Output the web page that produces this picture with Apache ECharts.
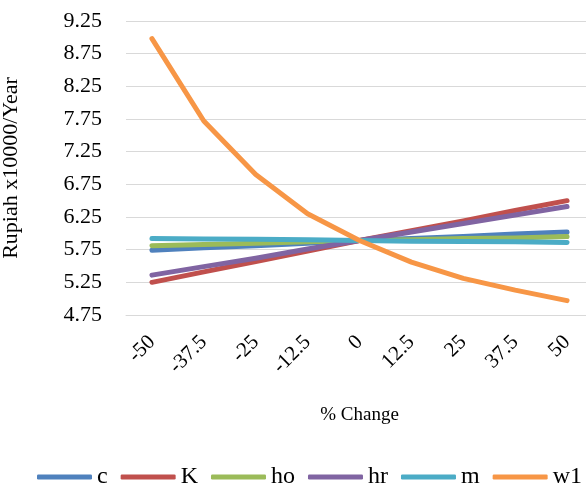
<!DOCTYPE html>
<html>
<head>
<meta charset="utf-8">
<script src="https://cdn.jsdelivr.net/npm/echarts@6/dist/echarts.min.js"></script>
<style>html,body{margin:0;padding:0;background:#fff}#chart{width:586px;height:488px}</style>
</head>
<body>
<div id="chart"></div>
<script>
const categories = ['-50', '-37.5', '-25', '-12.5', '0', '12.5', '25', '37.5', '50'];
const c  = [5.74, 5.78, 5.81, 5.85, 5.89, 5.92, 5.95, 5.99, 6.02];
const K  = [5.25, 5.41, 5.57, 5.73, 5.89, 6.04, 6.19, 6.35, 6.50];
const ho = [5.81, 5.83, 5.85, 5.87, 5.89, 5.90, 5.92, 5.93, 5.95];
const hr = [5.36, 5.49, 5.62, 5.76, 5.89, 6.02, 6.15, 6.28, 6.41];
const m  = [5.92, 5.915, 5.91, 5.90, 5.89, 5.88, 5.875, 5.87, 5.86];
const w1 = [8.98, 7.72, 6.90, 6.30, 5.89, 5.56, 5.31, 5.13, 4.97];
const seriesNames = ['c', 'K', 'ho', 'hr', 'm', 'w1'];
const seriesData = [c, K, ho, hr, m, w1];
const colors = ['#4F81BD', '#C0504D', '#9BBB59', '#8064A2', '#4BACC6', '#F79646'];

const FONT = '"Liberation Serif", "Times New Roman", serif';
const chart = echarts.init(document.getElementById('chart'));
chart.setOption({
  animation: false,
  color: colors,
  textStyle: { fontFamily: FONT, color: '#000' },
  grid: { left: 126, right: -7, top: 21, bottom: 173, containLabel: false, outerBoundsMode: 'none' },
  legend: {
    left: 37, top: 465, padding: 0,
    icon: 'roundRect', itemWidth: 55, itemHeight: 5, itemGap: 13,
    textStyle: { fontFamily: FONT, fontSize: 24, color: '#000' },
    data: seriesNames
  },
  xAxis: {
    type: 'category', data: categories, boundaryGap: true,
    name: '% Change', nameLocation: 'middle', nameGap: 91,
    nameTextStyle: { fontFamily: FONT, fontSize: 19, color: '#000' },
    axisLine: { show: true, lineStyle: { color: '#d9d9d9', width: 1 } },
    axisTick: { show: false },
    axisLabel: { rotate: 45, margin: 24, fontFamily: FONT, fontSize: 21, color: '#000' }
  },
  yAxis: {
    type: 'value', min: 4.75, max: 9.25, interval: 0.5,
    name: 'Rupiah x10000/Year', nameLocation: 'middle', nameGap: 104,
    nameTextStyle: { fontFamily: FONT, fontSize: 22, color: '#000' },
    axisLine: { show: false }, axisTick: { show: false },
    axisLabel: { margin: 24, fontFamily: FONT, fontSize: 22, color: '#000',
      formatter: v => v.toFixed(2) },
    splitLine: { lineStyle: { color: '#d9d9d9', width: 1 } }
  },
  series: seriesNames.map((n, i) => ({
    name: n, type: 'line', data: seriesData[i], symbol: 'none', smooth: false,
    lineStyle: { width: 5, color: colors[i], cap: 'round', join: 'round' },
    itemStyle: { color: colors[i] }
  }))
});
</script>
</body>
</html>
